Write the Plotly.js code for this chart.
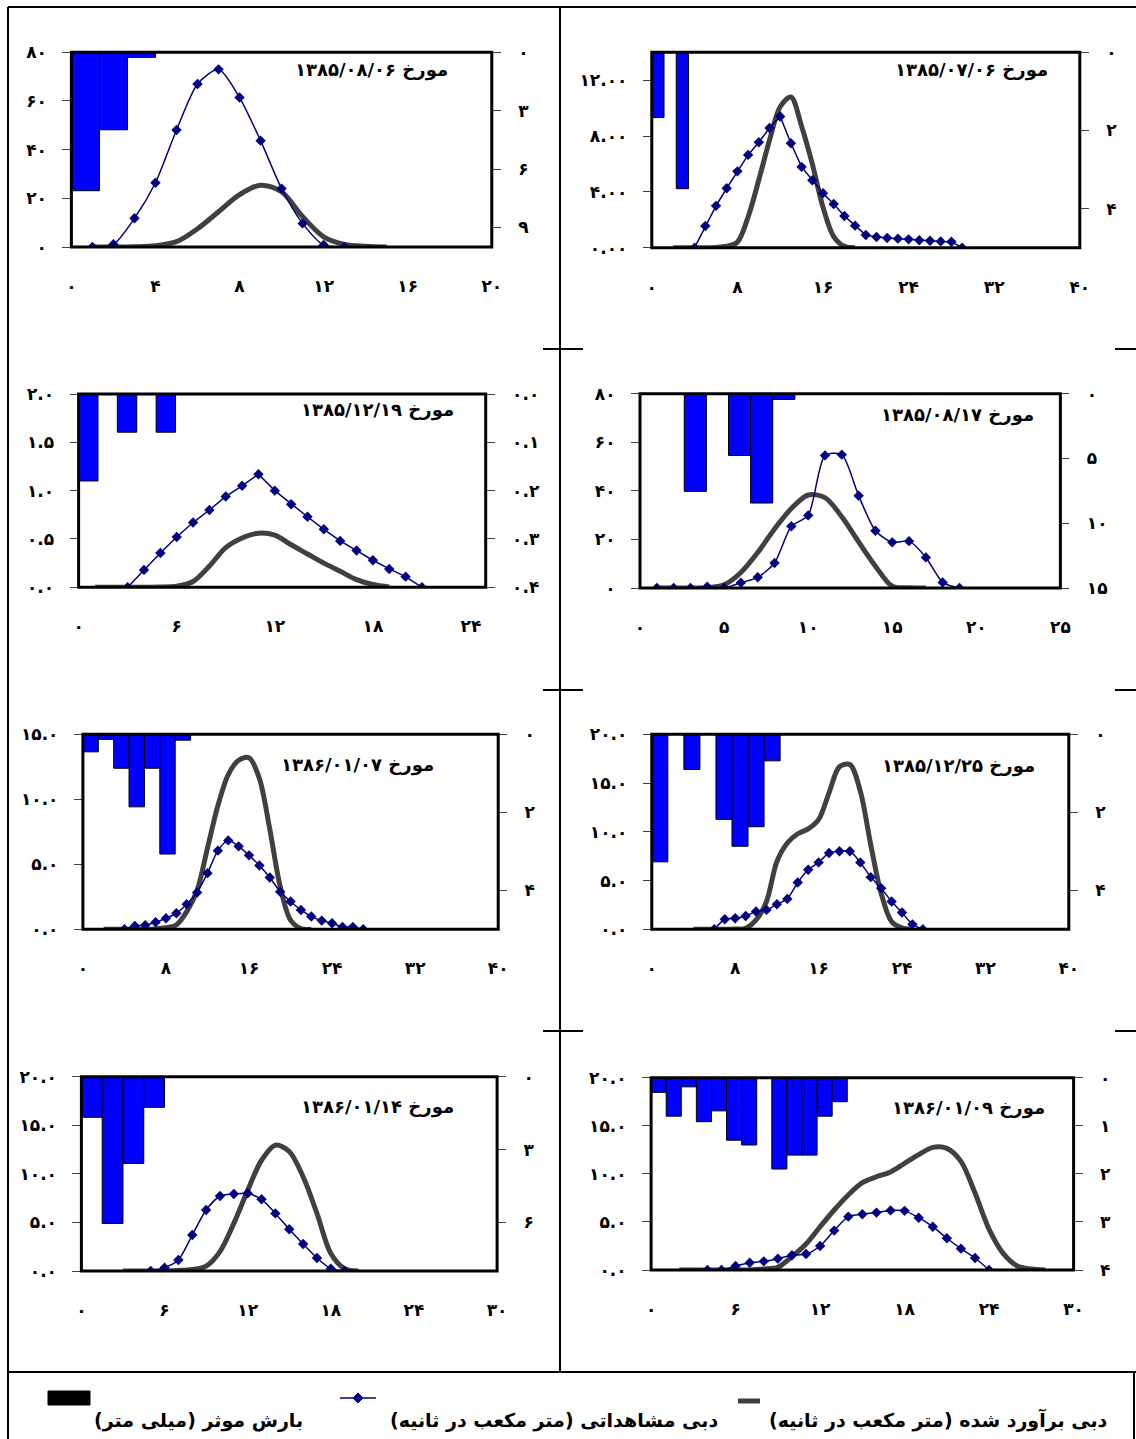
<!DOCTYPE html>
<html><head><meta charset="utf-8">
<script src="https://cdn.plot.ly/plotly-3.0.1.min.js"></script>
<style>html,body{margin:0;padding:0;background:#fff}#chart{width:1136px;height:1439px}</style>
</head><body><div id="chart"></div><script>
// ---------------- DATA ----------------
// Panel 1
const p1_title = 'مورخ ۱۳۸۵/۰۸/۰۶';
const p1_obsT = [1,2,3,4,5,6,7,8,9,10,11,12,13];
const p1_obsQ = [0,1.1,11.8,26.4,48.1,67,73,61.4,43.7,24,9.7,0.8,0];
const p1_simT = [1,2,3,4,5,6,7,8,9,10,11,12,13,14,15];
const p1_simQ = [0,0,0.1,0.5,2.2,7.5,14.5,21.5,25.4,22.7,12.5,4.2,1.1,0.3,0];
const p1_rain = [7.11,3.98,0.26];
const p1_xTicks = [0,4,8,12,16,20];
const p1_qTicks = [0,20,40,60,80];
const p1_rTicks = [0,3,6,9];

// Panel 2
const p2_title = 'مورخ ۱۳۸۵/۰۷/۰۶';
const p2_obsT = [4,5,6,7,8,9,10,11,12,13,14,15,16,17,18,19,20,21,22,23,24,25,26,27,28,29];
const p2_obsQ = [0,1.55,3.0,4.26,5.47,6.65,7.55,8.58,9.4,7.48,5.79,4.83,3.9,3.13,2.27,1.58,0.91,0.77,0.69,0.65,0.6,0.53,0.5,0.45,0.43,0];
const p2_simT = [2,3,4,5,6,7,8,9,10,11,12,13,14,15,16,17,18,19];
const p2_simQ = [0,0,0,0,0.02,0.1,0.4,2.2,4.85,7.7,10.1,10.8,8.7,6.0,2.9,0.8,0.1,0];
const p2_rain = [1.67,0,3.49];
const p2_xTicks = [0,8,16,24,32,40];
const p2_qTicks = [0,4,8,12];
const p2_rTicks = [0,2,4];

// Panel 3
const p3_title = 'مورخ ۱۳۸۵/۱۲/۱۹';
const p3_obsT = [3,4,5,6,7,8,9,10,11,12,13,14,15,16,17,18,19,20,21];
const p3_obsQ = [0,0.18,0.355,0.52,0.67,0.80,0.94,1.05,1.17,1.0,0.86,0.73,0.60,0.48,0.38,0.28,0.19,0.11,0];
const p3_simT = [1,2,3,4,5,6,7,8,9,10,11,12,13,14,15,16,17,18,19];
const p3_simQ = [0,0,0,0,0.002,0.01,0.06,0.22,0.41,0.51,0.56,0.54,0.44,0.345,0.25,0.165,0.08,0.03,0.003];
const p3_rain = [0.18,0,0.079,0,0.079];
const p3_xTicks = [0,6,12,18,24];
const p3_qTicks = [0,0.5,1.0,1.5,2.0];
const p3_rTicks = [0,0.1,0.2,0.3,0.4];

// Panel 4
const p4_title = 'مورخ ۱۳۸۵/۰۸/۱۷';
const p4_obsT = [1,2,3,4,5,6,7,8,9,10,11,12,13,14,15,16,17,18,19];
const p4_obsQ = [0,0,0,0.5,0,2.2,4.4,10.3,25.4,29.9,54.6,54.9,38,23.6,18.8,19.3,12.6,2.3,0];
const p4_simT = [1,2,3,4,5,6,7,8,9,10,11,12,13,14,15,16,17];
const p4_simQ = [0,0,0,0.1,1.3,6.4,14.6,24.3,32.7,38.3,37.2,29.3,19,9,0.7,0.1,0];
const p4_rain = [0,0,7.54,0,4.77,8.44,0.44];
const p4_xTicks = [0,5,10,15,20,25];
const p4_qTicks = [0,20,40,60,80];
const p4_rTicks = [0,5,10,15];

// Panel 5
const p5_title = 'مورخ ۱۳۸۶/۰۱/۰۷';
const p5_obsT = [4,5,6,7,8,9,10,11,12,13,14,15,16,17,18,19,20,21,22,23,24,25,26,27];
const p5_obsQ = [0,0.26,0.31,0.54,0.85,1.23,1.93,2.83,4.32,6.05,6.84,6.38,5.69,4.91,3.99,2.88,2.14,1.49,0.98,0.67,0.46,0.18,0.18,0];
const p5_simT = [2,3,4,5,6,7,8,9,10,11,12,13,14,15,16,17,18,19,20,21,22];
const p5_simQ = [0,0,0,0,0,0.03,0.12,0.33,1.36,3.0,6.25,9.5,11.9,13.0,13.2,11.6,7.7,3.3,0.7,0.05,0];
const p5_rain = [0.45,0.13,0.87,1.86,0.87,3.07,0.15];
const p5_xTicks = [0,8,16,24,32,40];
const p5_qTicks = [0,5,10,15];
const p5_rTicks = [0,2,4];

// Panel 6
const p6_title = 'مورخ ۱۳۸۵/۱۲/۲۵';
const p6_obsT = [6,7,8,9,10,11,12,13,14,15,16,17,18,19,20,21,22,23,24,25,26];
const p6_obsQ = [0,1.03,1.13,1.37,1.82,1.99,2.57,3.12,4.8,6.1,6.86,7.82,8.0,8.0,6.86,5.35,4.22,2.85,1.72,0.51,0];
const p6_simT = [4,5,6,7,8,9,10,11,12,13,14,15,16,17,18,19,20,21,22,23,24,25];
const p6_simQ = [0,0,0,0,0.02,0.1,0.96,2.85,6.96,8.85,9.8,10.3,11.25,14.0,16.67,16.9,14.17,8.68,3.7,0.79,0.14,0];
const p6_rain = [3.27,0,0.9,0,2.18,2.87,2.37,0.68];
const p6_xTicks = [0,8,16,24,32,40];
const p6_qTicks = [0,5,10,15,20];
const p6_rTicks = [0,2,4];

// Panel 7
const p7_title = 'مورخ ۱۳۸۶/۰۱/۱۴';
const p7_obsT = [5,6,7,8,9,10,11,12,13,14,15,16,17,18,19];
const p7_obsQ = [0,0.34,1.13,3.7,6.28,7.72,7.92,8.0,7.38,5.93,4.29,2.78,1.34,0.24,0];
const p7_simT = [3,4,5,6,7,8,9,10,11,12,13,14,15,16,17,18,19,20];
const p7_simQ = [0,0,0,0,0.05,0.15,0.5,2.0,4.9,8.3,11.4,12.95,12.3,9.7,5.93,1.8,0.24,0];
const p7_rain = [1.67,6.04,3.57,1.26];
const p7_xTicks = [0,6,12,18,24,30];
const p7_qTicks = [0,5,10,15,20];
const p7_rTicks = [0,3,6];

// Panel 8
const p8_title = 'مورخ ۱۳۸۶/۰۱/۰۹';
const p8_obsT = [4,5,6,7,8,9,10,11,12,13,14,15,16,17,18,19,20,21,22,23,24];
const p8_obsQ = [0,0,0.42,0.76,0.9,1.18,1.53,1.66,2.5,4.1,5.55,5.8,5.97,6.2,6.15,5.44,4.5,3.3,2.22,1.25,0];
const p8_simT = [2,3,4,5,6,7,8,9,10,11,12,13,14,15,16,17,18,19,20,21,22,23,24,25,26,27,28];
const p8_simQ = [0,0,0,0,0,0,0.1,0.28,1.39,2.7,4.5,6.24,7.8,9.08,9.7,10.2,11.1,12.0,12.75,12.65,11.3,8.0,4.23,1.73,0.42,0.1,0];
const p8_rain = [0.305,0.80,0.19,0.915,0.69,1.30,1.40,0,1.90,1.61,1.61,0.80,0.50];
const p8_xTicks = [0,6,12,18,24,30];
const p8_qTicks = [0,5,10,15,20];
const p8_rTicks = [0,1,2,3,4];

const legendRain = 'بارش موثر (میلی متر)';
const legendObs  = 'دبی مشاهداتی (متر مکعب در ثانیه)';
const legendSim  = 'دبی برآورد شده (متر مکعب در ثانیه)';

// ---------------- LAYOUT CONFIG ----------------
const W = 1136, H = 1439;
const fx = p => p / W;
const fy = p => 1 - p / H;
const FA = ['۰','۱','۲','۳','۴','۵','۶','۷','۸','۹'];
const fa = (v, d) => v.toFixed(d).replace(/[0-9]/g, c => FA[+c]);

const panels = [
  {title:p1_title, oT:p1_obsT, oQ:p1_obsQ, sT:p1_simT, sQ:p1_simQ, rain:p1_rain, xt:p1_xTicks, qt:p1_qTicks, rt:p1_rTicks,
   box:[71.4,491.8,52.3,247], xMax:20, qMax:80, rMax:10, n:15, qd:0, rd:0, tx:450, ty:70, obsShape:'spline'},
  {title:p2_title, oT:p2_obsT, oQ:p2_obsQ, sT:p2_simT, sQ:p2_simQ, rain:p2_rain, xt:p2_xTicks, qt:p2_qTicks, rt:p2_rTicks,
   box:[651.8,1079.8,52.3,247.7], xMax:40, qMax:14, rMax:5, n:35, qd:2, rd:0, tx:1050, ty:70, obsShape:'linear'},
  {title:p3_title, oT:p3_obsT, oQ:p3_obsQ, sT:p3_simT, sQ:p3_simQ, rain:p3_rain, xt:p3_xTicks, qt:p3_qTicks, rt:p3_rTicks,
   box:[78.6,485.7,394,587.3], xMax:24.9, qMax:2, rMax:0.4, n:21, qd:1, rd:1, tx:456, ty:410, obsShape:'linear'},
  {title:p4_title, oT:p4_obsT, oQ:p4_obsQ, sT:p4_simT, sQ:p4_simQ, rain:p4_rain, xt:p4_xTicks, qt:p4_qTicks, rt:p4_rTicks,
   box:[640,1060.4,393.7,588], xMax:25, qMax:80, rMax:15, n:19, qd:0, rd:0, tx:1036, ty:415, obsShape:'spline'},
  {title:p5_title, oT:p5_obsT, oQ:p5_obsQ, sT:p5_simT, sQ:p5_simQ, rain:p5_rain, xt:p5_xTicks, qt:p5_qTicks, rt:p5_rTicks,
   box:[82.9,498.2,734.3,929.3], xMax:40, qMax:15, rMax:5, n:27, qd:1, rd:0, tx:436, ty:765, obsShape:'spline'},
  {title:p6_title, oT:p6_obsT, oQ:p6_obsQ, sT:p6_simT, sQ:p6_simQ, rain:p6_rain, xt:p6_xTicks, qt:p6_qTicks, rt:p6_rTicks,
   box:[651.8,1068.8,734.3,929.3], xMax:40, qMax:20, rMax:5, n:26, qd:1, rd:0, tx:1037, ty:766, obsShape:'spline'},
  {title:p7_title, oT:p7_obsT, oQ:p7_obsQ, sT:p7_simT, sQ:p7_simQ, rain:p7_rain, xt:p7_xTicks, qt:p7_qTicks, rt:p7_rTicks,
   box:[81.4,497.1,1076.7,1271], xMax:30, qMax:20, rMax:8, n:20, qd:1, rd:0, tx:456, ty:1107, obsShape:'spline'},
  {title:p8_title, oT:p8_obsT, oQ:p8_obsQ, sT:p8_simT, sQ:p8_simQ, rain:p8_rain, xt:p8_xTicks, qt:p8_qTicks, rt:p8_rTicks,
   box:[651.1,1073.6,1077.7,1270], xMax:30, qMax:20, rMax:4, n:28, qd:1, rd:0, tx:1047, ty:1108, obsShape:'spline'}
];

const FONT = 'DejaVu Sans';
const tickFont = {family: FONT, size: 17, color: '#000', weight: 'bold'};
const traces = [];
const layout = {
  width: W, height: H, margin: {l:0, r:0, t:0, b:0},
  paper_bgcolor: '#fff', plot_bgcolor: 'rgba(0,0,0,0)',
  showlegend: false, bargap: 0,
  shapes: [], annotations: []
};
const key = (l, i) => l + 'axis' + (i === 1 ? '' : i);
const id = (l, i) => l + (i === 1 ? '' : i);

panels.forEach((p, k) => {
  const i = k + 1, j = k + 9;
  const [l, r, t, b] = p.box;
  // bar (rain) subplot - main
  layout[key('x', j)] = {domain:[fx(l), fx(r)], range:[-0.5, p.n - 0.5], visible:false, anchor:id('y', j), fixedrange:true};
  layout[key('y', j)] = {domain:[fy(b), fy(t)], range:[p.rMax, 0], side:'right', anchor:id('x', j),
    tickvals:p.rt, ticktext:p.rt.map(v => fa(v, p.rd)), ticks:'outside', ticklen:8, tickwidth:1, tickcolor:'#444',
    showgrid:false, zeroline:false, showline:false, tickfont:tickFont, ticklabelstandoff:14};
  // discharge subplot - overlay
  layout[key('x', i)] = {overlaying:id('x', j), anchor:id('y', i), range:[0, p.xMax],
    tickvals:p.xt, ticktext:p.xt.map(v => fa(v, 0)), ticks:'', showgrid:false, zeroline:false, showline:false,
    tickfont:tickFont, ticklabelstandoff:27};
  layout[key('y', i)] = {overlaying:id('y', j), anchor:id('x', i), side:'left', range:[0, p.qMax],
    tickvals:p.qt, ticktext:p.qt.map(v => fa(v, p.qd)), ticks:'outside', ticklen:8, tickwidth:1, tickcolor:'#444',
    showgrid:false, zeroline:false, showline:false, tickfont:tickFont, ticklabelstandoff:12};

  traces.push({type:'bar', x:p.rain.map((_, q) => q), y:p.rain, xaxis:id('x', j), yaxis:id('y', j),
    marker:{color:'#0000FF', line:{color:'#000', width:1}}, hoverinfo:'skip'});
  traces.push({type:'scatter', mode:'lines', x:p.sT, y:p.sQ, xaxis:id('x', i), yaxis:id('y', i),
    line:{color:'#404040', width:5, shape:'spline', smoothing:0.9}, hoverinfo:'skip'});
  traces.push({type:'scatter', mode:'lines+markers', x:p.oT, y:p.oQ, xaxis:id('x', i), yaxis:id('y', i),
    line:{color:'#000080', width:1.5, shape:p.obsShape, smoothing:0.7},
    marker:{symbol:'diamond', size:8, color:'#000080'}, hoverinfo:'skip'});

  layout.shapes.push({type:'rect', xref:'paper', yref:'paper', x0:fx(l), x1:fx(r), y0:fy(b), y1:fy(t),
    line:{color:'#000', width:3}, layer:'above'});
  layout.annotations.push({xref:'paper', yref:'paper', x:fx(p.tx), y:fy(p.ty), xanchor:'right', yanchor:'middle',
    text:p.title, showarrow:false, font:{family:FONT, size:18, color:'#000', weight:'bold'}});
});

// table lines
const ln = (x0, y0, x1, y1, w) => layout.shapes.push({type:'line', xref:'paper', yref:'paper',
  x0:fx(x0), y0:fy(y0), x1:fx(x1), y1:fy(y1), line:{color:'#000', width:w || 2}});
ln(8, 7, 1136, 7);
ln(8, 7, 8, 1439);
ln(560, 7, 560, 1372);
ln(8, 1372, 1136, 1372);
ln(1134, 1372, 1134, 1439);
[349, 690, 1031].forEach(y => { ln(543, y, 583, y); ln(1115, y, 1136, y); });

// legend
layout.shapes.push({type:'rect', xref:'paper', yref:'paper', x0:fx(48), x1:fx(90), y0:fy(1405), y1:fy(1391),
  fillcolor:'#000', line:{color:'#000', width:1}});
ln(340, 1398, 376, 1398, 1.5);
layout.shapes[layout.shapes.length - 1].line.color = '#000080';
layout.shapes.push({type:'path', xref:'paper', yref:'paper',
  path:`M ${fx(358)} ${fy(1393)} L ${fx(363)} ${fy(1398)} L ${fx(358)} ${fy(1403)} L ${fx(353)} ${fy(1398)} Z`,
  fillcolor:'#000080', line:{color:'#000080', width:1}});
ln(738, 1401, 760, 1401, 5);
layout.shapes[layout.shapes.length - 1].line.color = '#404040';

const legFont = {family:FONT, size:19, color:'#000', weight:'bold'};
[[legendSim, 1110], [legendObs, 720], [legendRain, 305]].forEach(([txt, x]) => {
  layout.annotations.push({xref:'paper', yref:'paper', x:fx(x), y:fy(1420), xanchor:'right', yanchor:'middle',
    text:txt + '\u200F', showarrow:false, font:legFont});
});

Plotly.newPlot('chart', traces, layout, {staticPlot:true, displayModeBar:false});
</script></body></html>
